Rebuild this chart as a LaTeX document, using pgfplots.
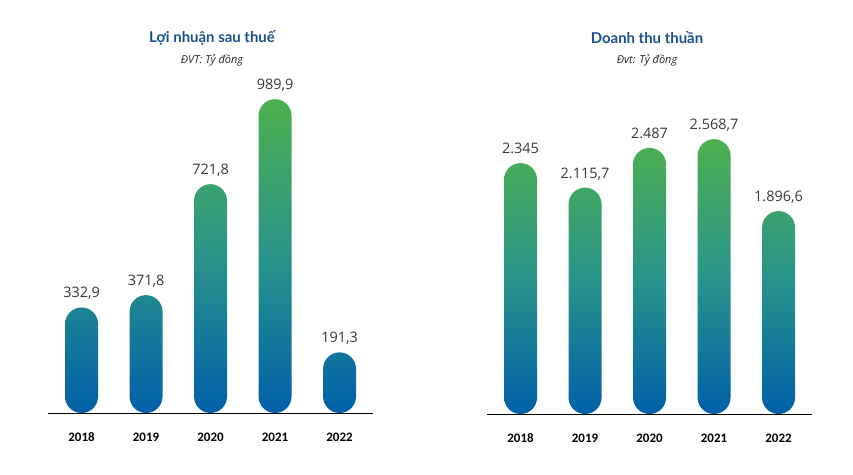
\documentclass[border=0pt]{standalone}
\usepackage{pgfplots}
\pgfplotsset{compat=1.18}
\usepackage{pgfplotstable}
\usepackage{fontspec}
\setmainfont{Open Sans}
\newfontfamily\yearfont{Carlito}
\newfontfamily\titlefont{Lato}
\definecolor{cgreen}{HTML}{4DB04E}
\definecolor{cteal}{HTML}{2A948A}
\definecolor{cblue}{HTML}{0060A8}
\definecolor{ctitle}{HTML}{1A4F8F}

\pgfplotstableread{
x y label
0 332.9 332,9
1 371.8 371,8
2 721.8 721,8
3 989.9 989,9
4 191.3 191,3
}\profit
\pgfplotstableread{
x y label
0 2345.0 2.345
1 2115.7 2.115,7
2 2487.0 2.487
3 2568.7 2.568,7
4 1896.6 1.896,6
}\revenue

\pgfplotsset{
  pillbars/.style={
    x=64.5bp, xmin=-0.52, xmax=4.52, ymin=0,
    axis x line*=bottom, axis y line=none,
    axis line style={black, line width=0.9bp},
    xtick=data, major tick length=0pt, ytick=\empty,
    xticklabels={2018,2019,2020,2021,2022},
    xticklabel style={font=\yearfont\bfseries\fontsize{13}{13}\selectfont, anchor=base, yshift=-28bp},
    clip=false,
    nodes near coords,
    point meta=explicit symbolic,
    nodes near coords style={font=\fontsize{14.5}{16}\selectfont, text=black!78, anchor=base, inner sep=0pt, yshift=9.5bp},
  },
  pill/.style={ybar, bar width=33bp, draw=none, rounded corners=16.5bp,
    top color=cgreen, bottom color=cblue, middle color=cteal},
}

\begin{document}
\begin{tikzpicture}
\useasboundingbox (0,0) rectangle (853bp,475bp);
\begin{axis}[pillbars, y=0.317bp, ymax=1080, at={(48bp,62bp)}, anchor=south west]
\addplot[pill] table[x=x, y=y, meta=label] {\profit};
\end{axis}
\begin{axis}[pillbars, y=0.107bp, ymax=3100, at={(487bp,61bp)}, anchor=south west]
\addplot[pill] table[x=x, y=y, meta=label] {\revenue};
\end{axis}
\node[font=\titlefont\bfseries\fontsize{15}{18}\selectfont, text=ctitle] at (212bp,437bp) {Lợi nhuận sau thuế};
\node[font=\itshape\fontsize{11}{13}\selectfont, text=black!85] at (212bp,415bp) {ĐVT: Tỷ đồng};
\node[font=\titlefont\bfseries\fontsize{15}{18}\selectfont, text=ctitle] at (647bp,437bp) {Doanh thu thuần};
\node[font=\itshape\fontsize{11}{13}\selectfont, text=black!85] at (647bp,415bp) {Đvt: Tỷ đồng};
\end{tikzpicture}
\end{document}
